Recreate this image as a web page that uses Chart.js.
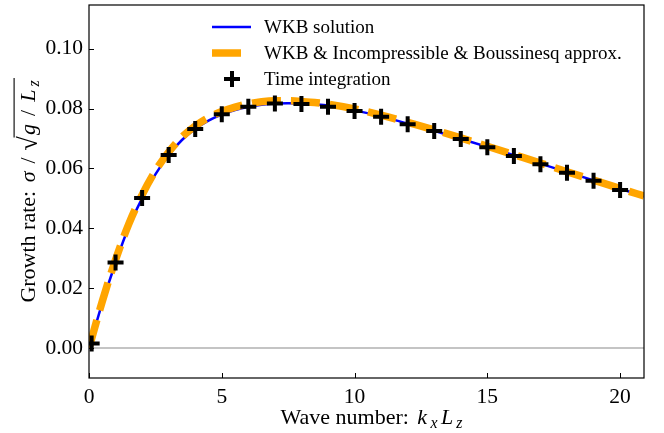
<!DOCTYPE html>
<html>
<head>
<meta charset="utf-8">
<script src="https://cdn.jsdelivr.net/npm/chart.js@4.4.1/dist/chart.umd.min.js"></script>
<style>
  html, body { margin: 0; padding: 0; background: #fff; }
  #wrap { width: 664px; height: 433px; }
</style>
</head>
<body>
<div id="wrap"><canvas id="chartGrowth" width="664" height="433"></canvas></div>
<script>
// wave numbers along the curves
const kx = [0, 0.5, 1, 1.5, 2, 2.5, 3, 3.5, 4, 4.5, 5, 5.5, 6, 6.5, 7, 7.5, 8, 8.5, 9,
            10, 11, 12, 13, 14, 15, 16, 17, 18, 19, 20, 20.9];
// WKB solution (blue)
const wkb = [0, 0.0150, 0.0285, 0.0405, 0.0500, 0.0580, 0.0645, 0.0695, 0.0732, 0.0760,
             0.0780, 0.0795, 0.0806, 0.0813, 0.0817, 0.0818, 0.0817, 0.0814, 0.0810,
             0.0794, 0.0774, 0.0750, 0.0726, 0.0699, 0.0672, 0.0644, 0.0616, 0.0588,
             0.0560, 0.0532, 0.0507];
// WKB & Incompressible & Boussinesq approx. (orange)
const approx = [0, 0.0156, 0.0295, 0.0415, 0.0512, 0.0592, 0.0655, 0.0705, 0.0742, 0.0770,
                0.0790, 0.0805, 0.0816, 0.0823, 0.0826, 0.0826, 0.0824, 0.0820, 0.0815,
                0.0799, 0.0778, 0.0754, 0.0729, 0.0702, 0.0674, 0.0646, 0.0618, 0.0589,
                0.0561, 0.0533, 0.0508];
// time integration (crosses)
const kxTime = [0.1, 1, 2, 3, 4, 5, 6, 7, 8, 9, 10, 11, 12, 13, 14, 15, 16, 17, 18, 19, 20];
const sigmaTime = [0.0015, 0.0286, 0.0501, 0.0645, 0.0732, 0.0781, 0.0806, 0.0817, 0.0815,
                   0.0806, 0.0792, 0.0773, 0.0748, 0.0725, 0.0698, 0.0671, 0.0642, 0.0614,
                   0.0586, 0.0559, 0.0528];
// zero reference line
const zeroX = [0, 20.9];
const zeroY = [0, 0];

const xTicks = [0, 5, 10, 15, 20];
const yTicks = [0, 0.02, 0.04, 0.06, 0.08, 0.10];

const legendLabels = ['WKB solution', 'WKB & Incompressible & Boussinesq approx.', 'Time integration'];

const FAM = "'Liberation Serif', 'DejaVu Serif', serif";

function pts(xs, ys) {
    return xs.map((x, i) => ({ x: x, y: ys[i] }));
}

// texte avec italique / indice / surligne
function drawRich(ctx, segs, x, y, size) {
    const parts = segs.map(s => {
        const fs = size * (s.sub ? 0.72 : (s.scale || 1));
        const font = (s.i ? 'italic ' : '') + fs + 'px ' + FAM;
        ctx.font = font;
        return Object.assign({}, s, { font: font, w: ctx.measureText(s.t).width + (s.pad || 0) });
    });
    const total = parts.reduce((a, p) => a + p.w, 0);
    let cx = x - total / 2;
    ctx.textAlign = 'left';
    ctx.textBaseline = 'alphabetic';
    parts.forEach(p => {
        ctx.font = p.font;
        ctx.fillText(p.t, cx + (p.pad || 0) / 2, y + (p.sub ? size * 0.2 : 0) + (p.dy || 0));
        p.x0 = cx;
        cx += p.w;
        p.x1 = cx;
    });
    const ol = parts.filter(p => p.o);
    if (ol.length) {
        ctx.beginPath();
        ctx.lineWidth = 1.1;
        ctx.moveTo(ol[0].x0 - 1, y - size * 0.95);
        ctx.lineTo(ol[ol.length - 1].x1 + 1, y - size * 0.95);
        ctx.stroke();
    }
}

const decorPlugin = {
    id: 'decor',
    afterDraw(chart) {
        const ctx = chart.ctx;
        const a = chart.chartArea;
        const xs = chart.scales.x, ys = chart.scales.y;
        ctx.save();
        ctx.strokeStyle = '#000';
        ctx.fillStyle = '#000';

        // cadre
        ctx.lineWidth = 1.2;
        ctx.strokeRect(a.left, a.top, a.right - a.left, a.bottom - a.top);

        // ticks vers l'interieur
        ctx.lineWidth = 1;
        ctx.beginPath();
        xTicks.forEach(v => {
            const px = Math.round(xs.getPixelForValue(v)) + 0.5;
            ctx.moveTo(px, a.bottom);
            ctx.lineTo(px, a.bottom - 5);
        });
        yTicks.forEach(v => {
            const py = Math.round(ys.getPixelForValue(v)) + 0.5;
            ctx.moveTo(a.left, py);
            ctx.lineTo(a.left + 5, py);
        });
        ctx.stroke();

        // titre axe x
        drawRich(ctx, [
            { t: 'Wave number: ', pad: 3 },
            { t: 'k', i: 1, pad: 3 }, { t: 'x', i: 1, sub: 1, pad: 4 },
            { t: 'L', i: 1, pad: 3 }, { t: 'z', i: 1, sub: 1, pad: 3 }
        ], (a.left + a.right) / 2 + 5, 424, 22);

        // titre axe y
        ctx.save();
        ctx.translate(35, (a.top + a.bottom) / 2);
        ctx.rotate(-Math.PI / 2);
        drawRich(ctx, [
            { t: 'Growth rate: ', pad: 3 },
            { t: '\u03c3', i: 1, pad: 3 }, { t: ' / ', pad: 2 },
            { t: '\u221a', scale: 1.2, dy: 2 },
            { t: 'g', i: 1, o: 1, pad: 3 }, { t: ' / ', o: 1, pad: 2 },
            { t: 'L', i: 1, o: 1, pad: 3 }, { t: 'z', i: 1, sub: 1, o: 1, pad: 3 }
        ], 0, 0, 22);
        ctx.restore();

        // legende
        const rows = [27, 53, 79];
        ctx.lineCap = 'butt';
        ctx.strokeStyle = '#0000ff';
        ctx.lineWidth = 2.5;
        ctx.beginPath(); ctx.moveTo(212, rows[0]); ctx.lineTo(251, rows[0]); ctx.stroke();
        ctx.strokeStyle = '#ffa500';
        ctx.lineWidth = 7.5;
        ctx.beginPath(); ctx.moveTo(212, rows[1]); ctx.lineTo(241, rows[1]); ctx.stroke();
        ctx.strokeStyle = '#000';
        ctx.lineWidth = 4;
        ctx.beginPath();
        ctx.moveTo(224, rows[2]); ctx.lineTo(240, rows[2]);
        ctx.moveTo(232, rows[2] - 8); ctx.lineTo(232, rows[2] + 8);
        ctx.stroke();
        ctx.font = '19px ' + FAM;
        ctx.textAlign = 'left';
        ctx.textBaseline = 'middle';
        legendLabels.forEach((t, i) => ctx.fillText(t, 264, rows[i] + 1));
        ctx.restore();
    }
};

new Chart(document.getElementById('chartGrowth'), {
    type: 'scatter',
    data: {
        datasets: [
            {
                label: legendLabels[2],
                data: pts(kxTime, sigmaTime),
                pointStyle: 'cross',
                pointRadius: 8,
                pointBorderWidth: 4,
                borderColor: '#000',
                backgroundColor: '#000',
                showLine: false,
                order: 0
            },
            {
                label: legendLabels[1],
                data: pts(kx, approx),
                showLine: true,
                borderColor: '#ffa500',
                borderWidth: 7.5,
                borderDash: [29, 10],
                borderCapStyle: 'butt',
                pointRadius: 0,
                cubicInterpolationMode: 'monotone',
                order: 1
            },
            {
                label: legendLabels[0],
                data: pts(kx, wkb),
                showLine: true,
                borderColor: '#0000ff',
                borderWidth: 2.5,
                pointRadius: 0,
                cubicInterpolationMode: 'monotone',
                order: 2
            },
            {
                label: 'zero',
                data: pts(zeroX, zeroY),
                showLine: true,
                borderColor: '#b0b0b0',
                borderWidth: 1.5,
                pointRadius: 0,
                order: 3
            }
        ]
    },
    options: {
        responsive: false,
        animation: false,
        devicePixelRatio: 1,
        layout: { autoPadding: false, padding: { top: 5, right: 20, left: 0, bottom: 0 } },
        plugins: {
            legend: { display: false },
            tooltip: { enabled: false }
        },
        scales: {
            x: {
                type: 'linear',
                min: 0,
                max: 20.9,
                afterBuildTicks: s => { s.ticks = xTicks.map(v => ({ value: v })); },
                afterFit: s => { s.height = 55; s.paddingLeft = 0; s.paddingRight = 0; },
                grid: { display: false, drawTicks: false },
                border: { display: false },
                ticks: {
                    padding: 6,
                    color: '#000',
                    font: { family: FAM, size: 21.5 },
                    maxRotation: 0,
                    callback: v => String(v)
                }
            },
            y: {
                min: -0.01,
                max: 0.1146,
                afterBuildTicks: s => { s.ticks = yTicks.map(v => ({ value: v })); },
                afterFit: s => { s.width = 89; s.paddingTop = 0; s.paddingBottom = 0; },
                grid: { display: false, drawTicks: false },
                border: { display: false },
                ticks: {
                    padding: 6,
                    color: '#000',
                    font: { family: FAM, size: 21.5 },
                    callback: v => v.toFixed(2)
                }
            }
        }
    },
    plugins: [decorPlugin]
});
</script>
</body>
</html>
